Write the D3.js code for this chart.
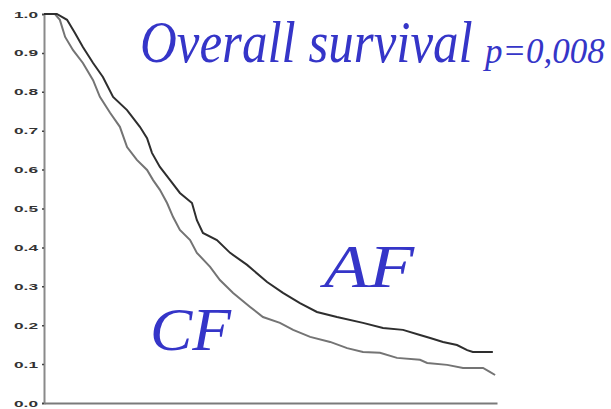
<!DOCTYPE html>
<html>
<head>
<meta charset="utf-8">
<script src="https://cdn.jsdelivr.net/npm/d3@7"></script>
<style>
  html, body { margin: 0; padding: 0; background: #fff; }
  svg { display: block; }
</style>
</head>
<body>
<svg id="chart" width="611" height="409"></svg>
<script>
// Kaplan-Meier overall survival, months since start
const afMonths   = [0, 3.4, 6.1, 8.2, 10.3, 13.0, 15.6, 18.3, 22.0, 25.4, 27.3, 28.6, 30.7, 33.4, 36.0, 39.2, 40.5, 42.1, 45.8, 49.3, 53.8, 59.1, 63.3, 67.8, 72.3, 77.6, 84.5, 89.8, 95.1, 99.6, 102.3, 105.7, 109.4, 112.1, 113.6, 118.9];
const afSurvival = [1.0, 1.0, 0.985, 0.951, 0.915, 0.874, 0.838, 0.787, 0.753, 0.71, 0.681, 0.643, 0.607, 0.573, 0.54, 0.514, 0.47, 0.437, 0.419, 0.386, 0.355, 0.311, 0.283, 0.257, 0.234, 0.221, 0.206, 0.193, 0.188, 0.175, 0.167, 0.157, 0.149, 0.136, 0.131, 0.131];

const cfMonths   = [0, 2.9, 4.2, 5.6, 7.7, 10.3, 13.0, 14.8, 17.5, 20.1, 22.0, 24.6, 27.3, 28.9, 30.7, 32.6, 34.2, 36.0, 38.7, 40.5, 44.0, 46.6, 50.1, 54.6, 58.0, 62.5, 66.0, 70.5, 75.8, 80.3, 84.5, 89.0, 93.5, 99.6, 101.5, 106.8, 111.0, 116.3, 118.1, 119.5];
const cfSurvival = [1.0, 1.0, 0.985, 0.941, 0.907, 0.874, 0.83, 0.787, 0.746, 0.71, 0.658, 0.625, 0.599, 0.573, 0.548, 0.514, 0.478, 0.445, 0.419, 0.386, 0.35, 0.316, 0.283, 0.247, 0.221, 0.206, 0.188, 0.17, 0.157, 0.141, 0.131, 0.129, 0.116, 0.111, 0.103, 0.098, 0.09, 0.09, 0.08, 0.072];

const yTicks = [0, 0.1, 0.2, 0.3, 0.4, 0.5, 0.6, 0.7, 0.8, 0.9, 1.0];

const svg = d3.select("#chart");

const x = d3.scaleLinear().domain([0, 120]).range([44, 497]);
const y = d3.scaleLinear().domain([0, 1]).range([403, 14]);

// y axis with stretched, small bold labels
const yAxis = svg.append("g")
  .attr("transform", "translate(44,0)")
  .call(d3.axisLeft(y).tickValues(yTicks).tickSize(2).tickPadding(4).tickFormat(d3.format(".1f")));
yAxis.select(".domain").attr("stroke", "#8a8a8a").attr("stroke-width", 2);
yAxis.selectAll(".tick line").attr("stroke", "#444").attr("stroke-width", 1.5);
yAxis.selectAll(".tick text")
  .attr("fill", "#333")
  .attr("font-family", "Liberation Sans, Arial, sans-serif")
  .attr("font-weight", "bold")
  .attr("font-size", 9.5)
  .attr("textLength", 24)
  .attr("lengthAdjust", "spacingAndGlyphs");

// x axis baseline without ticks
const xAxis = svg.append("g")
  .attr("transform", "translate(0,403)")
  .call(d3.axisBottom(x).tickValues([]).tickSizeOuter(0));
xAxis.select(".domain").attr("stroke", "#7a7a7a").attr("stroke-width", 2);

const line = d3.line()
  .x(d => x(d[0]))
  .y(d => y(d[1]));

const cfData = d3.zip(cfMonths, cfSurvival);
const afData = d3.zip(afMonths, afSurvival);

svg.append("path")
  .datum(cfData)
  .attr("d", line)
  .attr("fill", "none")
  .attr("stroke", "#747474")
  .attr("stroke-width", 2);

svg.append("path")
  .datum(afData)
  .attr("d", line)
  .attr("fill", "none")
  .attr("stroke", "#2e2e2e")
  .attr("stroke-width", 2);

// Title and curve labels (tall, slender italic serif)
const blue = "#3535c8";
const serif = "Liberation Serif, Times New Roman, serif";

svg.append("text")
  .attr("transform", "translate(140,62) scale(1,1.18)")
  .attr("font-family", serif).attr("font-style", "italic")
  .attr("font-size", 51).attr("fill", blue)
  .text("Overall survival");

svg.append("text")
  .attr("x", 485).attr("y", 63)
  .attr("font-family", serif).attr("font-style", "italic")
  .attr("font-size", 35).attr("fill", blue)
  .text("p=0,008");

svg.append("text")
  .attr("transform", "translate(324,287) scale(1.42,1.18)")
  .attr("font-family", serif).attr("font-style", "italic")
  .attr("font-size", 52).attr("fill", blue)
  .text("AF");

svg.append("text")
  .attr("transform", "translate(150,350) scale(1.22,1.18)")
  .attr("font-family", serif).attr("font-style", "italic")
  .attr("font-size", 52).attr("fill", blue)
  .text("CF");
</script>
</body>
</html>
